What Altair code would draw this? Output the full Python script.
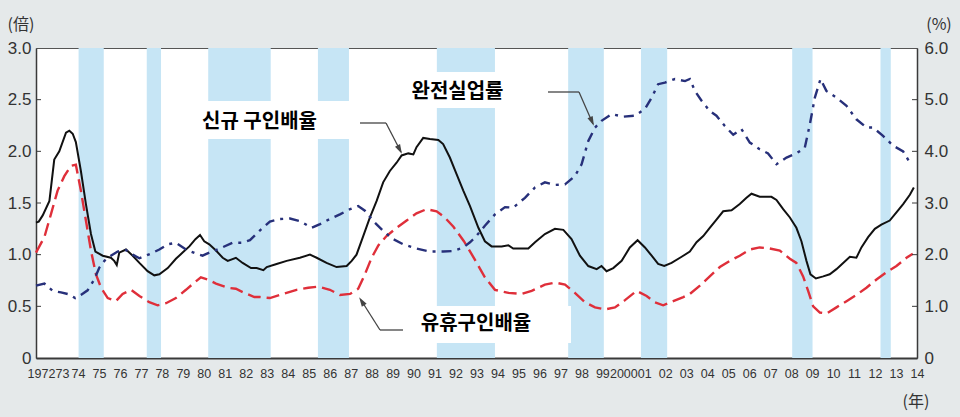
import altair as alt
import pandas as pd

# ---- 신규 구인배율 (new openings-to-applicants ratio, left axis, 倍) ----
new_year = [1972.0, 1972.13, 1972.32, 1972.64, 1972.87, 1973.11, 1973.43, 1973.59, 1973.75, 1973.90,
            1974.14, 1974.38, 1974.62, 1974.83, 1975.18, 1975.57, 1975.73, 1975.85, 1975.97, 1976.29,
            1976.61, 1976.93, 1977.32, 1977.64, 1977.88, 1978.28, 1978.67, 1978.99, 1979.31, 1979.60,
            1979.82, 1980.02, 1980.26, 1980.58, 1980.90, 1981.14, 1981.53, 1981.85, 1982.25, 1982.52,
            1982.84, 1983.00, 1983.47, 1983.95, 1984.58, 1985.06, 1985.38, 1985.85, 1986.33, 1986.81,
            1987.05, 1987.28, 1987.60, 1987.92, 1988.24, 1988.55, 1988.87, 1989.19, 1989.43, 1989.75,
            1989.99, 1990.14, 1990.46, 1990.78, 1991.18, 1991.41, 1991.73, 1992.05, 1992.37, 1992.69,
            1993.09, 1993.40, 1993.72, 1994.20, 1994.52, 1994.75, 1995.15, 1995.47, 1995.79, 1996.26,
            1996.74, 1997.14, 1997.53, 1997.93, 1998.33, 1998.73, 1998.96, 1999.20, 1999.52, 1999.92,
            2000.31, 2000.68, 2001.03, 2001.35, 2001.66, 2001.95, 2002.30, 2002.78, 2003.17, 2003.49,
            2003.81, 2004.12, 2004.44, 2004.76, 2005.16, 2005.55, 2005.87, 2006.11, 2006.50, 2007.06,
            2007.30, 2007.62, 2007.94, 2008.25, 2008.49, 2008.73, 2008.92, 2009.18, 2009.53, 2009.84,
            2010.16, 2010.48, 2010.80, 2011.11, 2011.35, 2011.67, 2011.99, 2012.30, 2012.70, 2013.02,
            2013.34, 2013.66, 2013.85]
new_val = [1.31, 1.32, 1.38, 1.52, 1.92, 2.00, 2.18, 2.20, 2.17, 2.09,
           1.81, 1.49, 1.20, 1.03, 0.99, 0.97, 0.94, 0.90, 1.02, 1.05,
           0.99, 0.92, 0.84, 0.80, 0.81, 0.87, 0.96, 1.02, 1.08, 1.15,
           1.19, 1.13, 1.10, 1.04, 0.97, 0.94, 0.97, 0.92, 0.87, 0.87,
           0.85, 0.88, 0.91, 0.94, 0.97, 1.00, 0.97, 0.92, 0.88, 0.89,
           0.94, 1.00, 1.18, 1.36, 1.52, 1.70, 1.81, 1.89, 1.96, 1.98,
           1.97, 2.04, 2.13, 2.12, 2.11, 2.07, 1.94, 1.78, 1.62, 1.47,
           1.26, 1.13, 1.08, 1.08, 1.09, 1.06, 1.06, 1.06, 1.12, 1.20,
           1.25, 1.24, 1.15, 0.99, 0.89, 0.86, 0.89, 0.84, 0.87, 0.94,
           1.07, 1.14, 1.07, 0.99, 0.91, 0.89, 0.92, 0.98, 1.03, 1.12,
           1.18, 1.26, 1.34, 1.42, 1.43, 1.49, 1.55, 1.59, 1.56, 1.56,
           1.53, 1.44, 1.36, 1.26, 1.13, 0.94, 0.81, 0.77, 0.79, 0.81,
           0.86, 0.92, 0.98, 0.97, 1.07, 1.17, 1.25, 1.29, 1.33, 1.41,
           1.49, 1.58, 1.65]

# ---- 유휴구인배율 (active openings-to-applicants ratio, left axis, 倍) ----
act_year = [1972.0, 1972.40, 1972.71, 1973.03, 1973.35, 1973.67, 1973.90, 1974.14, 1974.38, 1974.62,
            1974.86, 1975.10, 1975.42, 1975.81, 1976.13, 1976.53, 1976.93, 1977.40, 1977.80, 1978.20,
            1978.67, 1979.15, 1979.55, 1979.86, 1980.18, 1980.58, 1981.14, 1981.53, 1981.93, 1982.41,
            1982.68, 1983.15, 1983.79, 1984.42, 1984.98, 1985.46, 1986.01, 1986.49, 1986.97, 1987.36,
            1987.68, 1988.00, 1988.32, 1988.71, 1989.19, 1989.67, 1990.14, 1990.62, 1991.10, 1991.49,
            1991.90, 1992.40, 1992.90, 1993.40, 1993.88, 1994.52, 1995.15, 1995.63, 1996.26, 1996.74,
            1997.22, 1997.69, 1998.17, 1998.65, 1999.12, 1999.60, 2000.08, 2000.63, 2001.11, 2001.50,
            2001.90, 2002.38, 2002.86, 2003.17, 2003.65, 2004.12, 2004.60, 2005.08, 2005.55, 2006.03,
            2006.50, 2006.98, 2007.46, 2007.94, 2008.25, 2008.57, 2008.81, 2009.05, 2009.37, 2009.68,
            2010.16, 2010.64, 2011.11, 2011.59, 2012.07, 2012.54, 2013.02, 2013.50, 2013.80]
act_val = [1.02, 1.17, 1.39, 1.62, 1.76, 1.86, 1.87, 1.62, 1.33, 1.04,
           0.81, 0.68, 0.58, 0.55, 0.62, 0.66, 0.60, 0.54, 0.51, 0.53,
           0.58, 0.66, 0.73, 0.78, 0.76, 0.72, 0.68, 0.67, 0.63, 0.59,
           0.59, 0.58, 0.62, 0.66, 0.68, 0.69, 0.66, 0.61, 0.62, 0.67,
           0.81, 0.97, 1.09, 1.18, 1.26, 1.33, 1.40, 1.44, 1.42, 1.36,
           1.27, 1.13, 0.96, 0.78, 0.66, 0.63, 0.62, 0.65, 0.71, 0.73,
           0.71, 0.63, 0.54, 0.49, 0.47, 0.49, 0.56, 0.65, 0.60, 0.54,
           0.51, 0.55, 0.59, 0.62, 0.70, 0.79, 0.88, 0.94, 0.99, 1.05,
           1.07, 1.06, 1.04, 0.96, 0.92, 0.79, 0.65, 0.50, 0.44, 0.43,
           0.49, 0.55, 0.61, 0.68, 0.76, 0.83, 0.89, 0.97, 1.01]

# ---- 완전실업률 (unemployment rate, right axis, %) ----
unemp_year = [1972.0, 1972.40, 1972.79, 1973.19, 1973.59, 1973.87, 1974.14, 1974.46, 1974.78, 1975.02,
              1975.26, 1975.50, 1975.89, 1976.29, 1976.61, 1976.93, 1977.48, 1977.88, 1978.28, 1978.67,
              1979.15, 1979.63, 1979.94, 1980.26, 1980.66, 1981.37, 1981.85, 1982.20, 1982.68, 1983.15,
              1983.63, 1984.11, 1984.58, 1985.14, 1985.54, 1986.01, 1986.49, 1986.97, 1987.36, 1987.68,
              1988.08, 1988.55, 1989.03, 1989.51, 1990.14, 1990.78, 1991.41, 1991.89, 1992.37, 1992.69,
              1992.93, 1993.40, 1993.88, 1994.36, 1994.75, 1995.31, 1995.79, 1996.26, 1996.74, 1997.22,
              1997.69, 1998.01, 1998.33, 1998.65, 1998.96, 1999.44, 2000.00, 2000.55, 2001.03, 2001.35,
              2001.66, 2001.98, 2002.46, 2002.94, 2003.17, 2003.41, 2003.73, 2004.12, 2004.44, 2004.84,
              2005.24, 2005.63, 2006.03, 2006.50, 2006.90, 2007.30, 2007.78, 2008.25, 2008.65, 2008.89,
              2009.13, 2009.40, 2009.68, 2010.16, 2010.64, 2011.11, 2011.59, 2011.91, 2012.38, 2012.86,
              2013.34, 2013.66]
unemp_val = [1.40, 1.44, 1.30, 1.27, 1.23, 1.16, 1.22, 1.31, 1.52, 1.75,
             1.88, 1.96, 2.06, 2.09, 2.00, 1.93, 2.02, 2.10, 2.20, 2.23,
             2.10, 2.02, 1.98, 2.04, 2.10, 2.23, 2.23, 2.28, 2.47, 2.64,
             2.69, 2.70, 2.65, 2.52, 2.59, 2.69, 2.78, 2.88, 2.94, 2.85,
             2.65, 2.46, 2.30, 2.20, 2.12, 2.06, 2.06, 2.07, 2.14, 2.24,
             2.33, 2.56, 2.78, 2.92, 2.91, 3.10, 3.30, 3.40, 3.35, 3.36,
             3.52, 3.75, 4.20, 4.46, 4.59, 4.72, 4.67, 4.69, 4.82, 5.04,
             5.30, 5.33, 5.40, 5.36, 5.40, 5.17, 4.98, 4.78, 4.69, 4.49,
             4.32, 4.43, 4.17, 4.04, 3.96, 3.75, 3.88, 3.96, 4.07, 4.52,
             5.04, 5.40, 5.17, 5.04, 4.88, 4.62, 4.46, 4.46, 4.30, 4.11,
             4.00, 3.78]

# ---- recession periods (shaded) ----
band_start = [1974.03, 1977.28, 1980.21, 1985.44, 1991.11, 1997.37, 2000.84, 2008.05, 2012.26]
band_end = [1975.23, 1977.96, 1983.19, 1986.92, 1993.88, 1999.07, 2002.09, 2009.02, 2012.75]

# ---- axis ticks / labels ----
x_ticks = list(range(1972, 2015))
left_ticks = [0, 0.5, 1.0, 1.5, 2.0, 2.5, 3.0]
right_ticks = [0, 1, 2, 3, 4, 5, 6]
inner_ticks = [0.5, 1.0, 1.5, 2.0, 2.5]

W, H = 881, 310
BLACK = "#111111"
RED = "#df2f3a"
BLUE = "#27307a"
BAND = "#c6e5f5"
AXIS = "#3a3a3a"
LABEL_FONT = "Liberation Sans"
KR_FONT = "Noto Sans CJK KR"

new_df = pd.DataFrame({"year": new_year, "v": new_val})
act_df = pd.DataFrame({"year": act_year, "v": act_val})
un_df = pd.DataFrame({"year": unemp_year, "v": unemp_val})
band_df = pd.DataFrame({"start": band_start, "end": band_end})
tick_df = pd.DataFrame({"v": inner_ticks})

x_scale = alt.Scale(domain=[1972, 2014], nice=False, zero=False)
x_axis = alt.Axis(
    values=x_ticks,
    labelExpr="(datum.value == 1972 || datum.value == 2000) ? toString(datum.value) : substring(toString(datum.value), 2, 4)",
    tickSize=0, grid=False, labelOverlap=False, labelFlush=False, labelBound=False,
    labelFont=LABEL_FONT, labelFontSize=12.5,
    labelOffset={"condition": {"test": "datum.value <= 1973", "value": 5}, "value": 0},
    labelColor="#333", labelPadding=9,
    domainColor=AXIS, domainWidth=2, title=None,
)
left_scale = alt.Scale(domain=[0, 3], nice=False)
right_scale = alt.Scale(domain=[0, 6], nice=False)
left_axis = alt.Axis(
    values=left_ticks, labelExpr="datum.value == 0 ? '0' : format(datum.value, '.1f')",
    tickSize=0, grid=False, labelFont=LABEL_FONT, labelFontSize=17, labelColor="#333",
    labelPadding=5, domainColor=AXIS, domainWidth=1.5, title=None,
)
right_axis = alt.Axis(
    orient="right", values=right_ticks,
    labelExpr="datum.value == 0 ? '0' : format(datum.value, '.1f')",
    tickSize=0, grid=False, labelFont=LABEL_FONT, labelFontSize=17, labelColor="#333",
    labelPadding=7, domainColor=AXIS, domainWidth=1.5, title=None,
)

one = alt.Data(values=[{}])

bands = alt.Chart(band_df).mark_rect(color=BAND).encode(
    x=alt.X("start:Q", scale=x_scale, axis=x_axis),
    x2="end:Q",
    y=alt.value(0), y2=alt.value(H),
)


def box(x1, x2, y1, y2):
    return alt.Chart(one).mark_rect(color="white").encode(
        x=alt.value(x1), x2=alt.value(x2), y=alt.value(y1), y2=alt.value(y2))


def seg(x1, y1, x2, y2):
    return alt.Chart(one).mark_rule(color="#444", strokeWidth=1.3).encode(
        x=alt.value(x1), x2=alt.value(x2), y=alt.value(y1), y2=alt.value(y2))


def head(x, y, ang):
    return alt.Chart(one).mark_point(
        shape="M0,-1L0.6,1L-0.6,1Z", filled=True, color="#444", opacity=1, size=90, angle=ang
    ).encode(x=alt.value(x), y=alt.value(y))


def label(txt, x, y, size=20, font=KR_FONT, weight="bold", color="black"):
    return alt.Chart(one).mark_text(
        text=txt, font=font, fontSize=size, fontWeight=weight, color=color,
        align="center", baseline="middle"
    ).encode(x=alt.value(x), y=alt.value(y))


boxes = [box(154, 319, 53, 91), box(356, 494, 24, 60), box(359, 535, 258, 295)]

new_line = alt.Chart(new_df).mark_line(color=BLACK, strokeWidth=2).encode(
    x=alt.X("year:Q", scale=x_scale, axis=x_axis),
    y=alt.Y("v:Q", scale=left_scale, axis=left_axis),
)
act_line = alt.Chart(act_df).mark_line(color=RED, strokeWidth=2.4, strokeDash=[13, 6]).encode(
    x=alt.X("year:Q", scale=x_scale, axis=x_axis),
    y=alt.Y("v:Q", scale=left_scale, axis=None),
)
un_line = alt.Chart(un_df).mark_line(color=BLUE, strokeWidth=2.4, strokeDash=[10, 6, 3, 6]).encode(
    x=alt.X("year:Q", scale=x_scale, axis=x_axis),
    y=alt.Y("v:Q", scale=right_scale, axis=right_axis),
)

left_inner = alt.Chart(tick_df).mark_rule(color=AXIS, strokeWidth=1).encode(
    x=alt.value(0), x2=alt.value(5), y=alt.Y("v:Q", scale=left_scale, axis=None))
right_inner = alt.Chart(tick_df).mark_rule(color=AXIS, strokeWidth=1).encode(
    x=alt.value(W - 5), x2=alt.value(W), y=alt.Y("v:Q", scale=left_scale, axis=None))

annotations = [
    label("신규 구인배율", 223.5, 74),
    label("완전실업률", 421.5, 44),
    label("유휴구인배율", 440, 276),
    seg(324, 75, 350, 75), seg(350, 75, 365, 104), head(363.7, 101.6, 152.7),
    seg(512, 44, 543, 44), seg(543, 44, 557, 76), head(556, 73.4, 156),
    seg(367, 282, 344, 282), seg(344, 282, 325, 252), head(325.7, 253.2, 327.5),
    label("(倍)", -15, -23, size=16, font="Noto Sans CJK JP", weight="normal", color="#333"),
    label("(%)", 903, -23, size=16, font="Noto Sans CJK JP", weight="normal", color="#333"),
    label("(年)", 880, 354, size=16, font="Noto Sans CJK JP", weight="normal", color="#333"),
]

chart = alt.layer(
    bands, *boxes, new_line, act_line, un_line, left_inner, right_inner, *annotations
).resolve_scale(y="independent").properties(
    width=W, height=H,
    padding={"left": 36, "top": 48, "right": 43, "bottom": 59},
    autosize=alt.AutoSizeParams(type="none"),
    background="#e5e9ea",
).configure_view(fill="white", stroke="#555", strokeWidth=1)

chart.save("out.html", embed_options={"renderer": "svg", "actions": False})
